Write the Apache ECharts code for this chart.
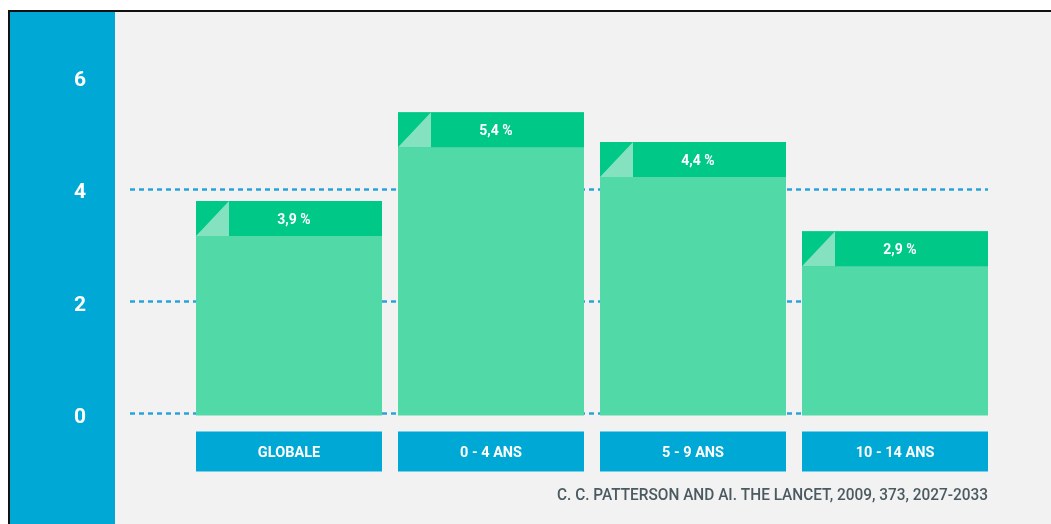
<!DOCTYPE html>
<html>
<head>
<meta charset="utf-8">
<script src="https://cdn.jsdelivr.net/npm/echarts@6/dist/echarts.min.js"></script>
<style>
  html, body { margin: 0; padding: 0; background: #ffffff; }
  #chart { width: 1051px; height: 524px; }
</style>
</head>
<body>
<div id="chart"></div>
<script>
// ---- Data ----
const categories = ['GLOBALE', '0 - 4 ANS', '5 - 9 ANS', '10 - 14 ANS'];
// percentages printed on the bars
const labelValues = [3.9, 5.4, 4.4, 2.9];
// bar heights as drawn in the picture (on the 0-6 axis)
const barHeights = [3.79, 5.37, 4.84, 3.25];
const yMin = 0, yMax = 6, yInterval = 2;
const sourceText = 'C. C. PATTERSON AND AI. THE LANCET, 2009, 373, 2027-2033';

// ---- Styles ----
const BLUE = '#00a8d6';
const GRID_BLUE = '#2aa3da';
const BODY = '#52d9a8';
const HEADER = '#00c886';
const FOLD = '#84e2c0';
const BG = '#f2f2f2';

const chart = echarts.init(document.getElementById('chart'), null, { renderer: 'canvas' });

function fmt(v) { return v.toFixed(1).replace('.', ',') + ' %'; }

function renderItem(params, api) {
  const i = api.value(0);
  const h = api.value(1);
  const lbl = api.value(2);
  const top = api.coord([i, h]);
  const base = api.coord([i, 0]);
  const band = api.size([1, 0])[0];
  const w = band * 186 / 202;
  const x = top[0] - w / 2;
  const y = top[1];
  const hh = 35, sq = 33;
  return {
    type: 'group',
    children: [
      { type: 'rect', shape: { x: x, y: y, width: w, height: base[1] - y + 2 }, style: { fill: BODY } },
      { type: 'rect', shape: { x: x, y: y, width: w, height: hh }, style: { fill: HEADER } },
      { type: 'polygon', shape: { points: [[x, y + hh], [x + sq, y], [x + sq, y + hh]] }, style: { fill: FOLD } },
      { type: 'text', x: top[0] + 5, y: y + hh / 2 + 2,
        style: { text: fmt(lbl), align: 'center', verticalAlign: 'middle', fill: '#ffffff',
                 font: 'bold 14px Roboto, sans-serif' } }
    ]
  };
}

// fit the source line to its width in the picture
const ctx = document.createElement('canvas').getContext('2d');
const srcFont = '500 16px Roboto, sans-serif';
ctx.font = srcFont;
const srcScale = 431 / ctx.measureText(sourceText).width;

const option = {
  animation: false,
  backgroundColor: '#ffffff',
  graphic: [
    { type: 'rect', z: -10, shape: { x: 8, y: 10, width: 1043, height: 514 }, style: { fill: '#111111' } },
    { type: 'rect', z: -9, shape: { x: 10, y: 12, width: 1041, height: 512 }, style: { fill: BG } },
    { type: 'rect', z: -8, shape: { x: 10, y: 12, width: 105, height: 512 }, style: { fill: BLUE } },
    { type: 'text', z: 5, x: 988, y: 496, scaleX: srcScale,
      style: { text: sourceText, align: 'right', verticalAlign: 'middle', fill: '#4b5a60', font: srcFont } }
  ],
  grid: [
    { left: 130, right: 63, top: 77, bottom: 110.5 },
    { left: 188, right: 55, top: 77, bottom: 110.5 }
  ],
  xAxis: [
    { gridIndex: 0, type: 'value', min: 0, max: 1, show: false },
    {
      gridIndex: 1, type: 'category', data: categories,
      axisLine: { show: false }, axisTick: { show: false },
      axisLabel: {
        margin: 18, color: '#ffffff', fontFamily: 'Roboto, sans-serif', fontWeight: 'bold', fontSize: 14.5,
        backgroundColor: BLUE, width: 186, height: 40, lineHeight: 43, align: 'center', verticalAlign: 'top'
      }
    }
  ],
  yAxis: [
    {
      gridIndex: 0, type: 'value', min: yMin, max: yMax, interval: yInterval,
      axisLine: { show: false }, axisTick: { show: false },
      axisLabel: { margin: 50, align: 'center', verticalAlign: 'top', lineHeight: 8, color: '#ffffff',
                   fontFamily: 'Roboto, sans-serif', fontWeight: 'bold', fontSize: 21 },
      splitLine: { show: true, lineStyle: { color: [GRID_BLUE, GRID_BLUE, GRID_BLUE, 'rgba(0,0,0,0)'],
                   width: 2.5, type: [5, 4] } }
    },
    { gridIndex: 1, type: 'value', min: yMin, max: yMax, interval: yInterval, show: false, splitLine: { show: false } }
  ],
  series: [
    {
      type: 'custom', xAxisIndex: 1, yAxisIndex: 1, z: 3,
      renderItem: renderItem,
      encode: { x: 0, y: 1 },
      data: barHeights.map((h, i) => [i, h, labelValues[i]])
    }
  ]
};
chart.setOption(option);
</script>
</body>
</html>
